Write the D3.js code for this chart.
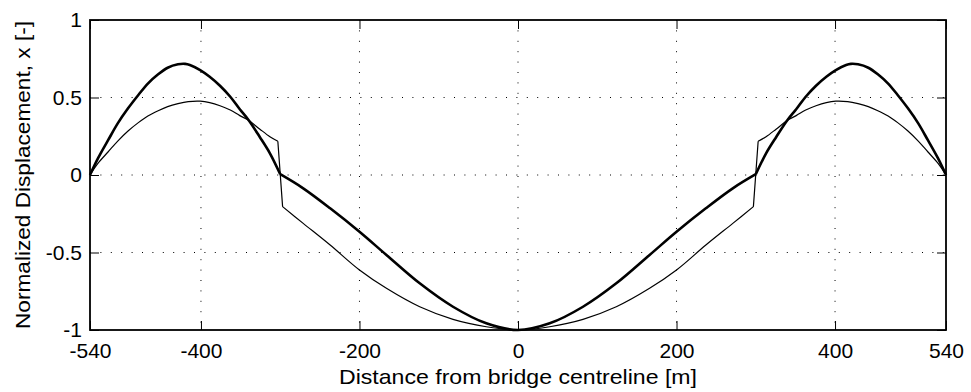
<!DOCTYPE html>
<html>
<head>
<meta charset="utf-8">
<script src="https://cdn.jsdelivr.net/npm/d3@7"></script>
<style>
body{margin:0;background:#fff;}
text{font-family:"Liberation Sans",Arial,sans-serif;fill:#000;}
</style>
</head>
<body>
<svg id="chart"></svg>
<script>
// values
const xTicks = [-540,-400,-200,0,200,400,540];
const yTicks = [-1,-0.5,0,0.5,1];
const xGrid = [-400,-200,0,200,400];
const yGrid = [-0.5,0,0.5];

const thickX = [-540,-530,-517,-505,-492,-479,-467,-454,-442,-429,-420,-414,-401,-389,-376,-363,-351,-340,-326,-313,-300,-271,-237,-200,-166,-124,-82,-40,0,
                40,82,124,166,200,237,271,300,313,326,340,351,363,376,389,401,414,420,429,442,454,467,479,492,505,517,530,540];
const thickY = [0,0.107,0.226,0.333,0.43,0.516,0.59,0.65,0.692,0.714,0.717,0.71,0.677,0.634,0.576,0.505,0.424,0.355,0.247,0.14,0.005,-0.086,-0.215,-0.366,-0.516,-0.699,-0.85,-0.957,-1,
                -0.957,-0.85,-0.699,-0.516,-0.366,-0.215,-0.086,0.005,0.14,0.247,0.355,0.424,0.505,0.576,0.634,0.677,0.71,0.717,0.714,0.692,0.65,0.59,0.516,0.43,0.333,0.226,0.107,0];
const thickKinks = [-300,300];

const thinX = [-540,-530,-517,-505,-492,-479,-467,-454,-442,-429,-416,-401,-389,-376,-363,-351,-340,-326,-313,-303,-297,-271,-237,-200,-166,-124,-82,-40,0,
               40,82,124,166,200,237,271,297,303,313,326,340,351,363,376,389,401,416,429,442,454,467,479,492,505,517,530,540];
const thinY = [0,0.075,0.15,0.219,0.284,0.338,0.381,0.415,0.441,0.46,0.473,0.476,0.467,0.447,0.419,0.383,0.353,0.297,0.247,0.218,-0.204,-0.312,-0.452,-0.613,-0.731,-0.85,-0.931,-0.979,-1,
               -0.979,-0.931,-0.85,-0.731,-0.613,-0.452,-0.312,-0.204,0.218,0.247,0.297,0.353,0.383,0.419,0.447,0.467,0.476,0.473,0.46,0.441,0.415,0.381,0.338,0.284,0.219,0.15,0.075,0];
const thinKinks = [-303,-297,297,303];

const width = 971, height = 392;
const margin = {left:90, right:25, top:20, bottom:62};
const innerW = width - margin.left - margin.right;
const innerH = height - margin.top - margin.bottom;
const tickLen = 9;
const fontSize = 21;

const svg = d3.select("#chart").attr("width", width).attr("height", height);
const chart = svg.append("g").attr("transform", `translate(${margin.left},${margin.top})`);

const xscale = d3.scaleLinear().domain([-540,540]).range([0,innerW]);
const yscale = d3.scaleLinear().domain([-1,1]).range([innerH,0]);

// dotted grid
chart.append("g").selectAll("line").data(xGrid).enter().append("line")
    .attr("x1", d=>xscale(d)).attr("x2", d=>xscale(d))
    .attr("y1", 0).attr("y2", innerH)
    .attr("stroke", "#000").attr("stroke-width", 1)
    .attr("stroke-dasharray", "1,9.4");
chart.append("g").selectAll("line").data(yGrid).enter().append("line")
    .attr("x1", 0).attr("x2", innerW)
    .attr("y1", d=>yscale(d)).attr("y2", d=>yscale(d))
    .attr("stroke", "#000").attr("stroke-width", 1)
    .attr("stroke-dasharray", "1,9.4");

// axes with inward ticks on all four sides
const styleAxis = g => {
    g.select(".domain").remove();
    g.selectAll(".tick line").attr("stroke", "#000").attr("stroke-width", 1);
    g.selectAll(".tick text").attr("font-size", fontSize).attr("font-family", "Liberation Sans, Arial, sans-serif");
};
const xaxis = d3.axisBottom(xscale).tickValues(xTicks).tickFormat(d=>String(d))
    .tickSizeInner(-tickLen).tickSizeOuter(0).tickPadding(13);
chart.append("g").attr("transform", `translate(0,${innerH})`).call(xaxis).call(styleAxis);
chart.append("g").call(d3.axisTop(xscale).tickValues(xTicks).tickSizeInner(-tickLen).tickSizeOuter(0).tickFormat(""))
    .call(styleAxis);
const yaxis = d3.axisLeft(yscale).tickValues(yTicks).tickFormat(d=>String(d))
    .tickSizeInner(-tickLen).tickSizeOuter(0).tickPadding(8);
chart.append("g").call(yaxis).call(styleAxis);
chart.append("g").attr("transform", `translate(${innerW},0)`)
    .call(d3.axisRight(yscale).tickValues(yTicks).tickSizeInner(-tickLen).tickSizeOuter(0).tickFormat(""))
    .call(styleAxis);

// split a series at its kink points so corners stay sharp
function pieces(xs, ys, kinks){
    const out = [];
    let cur = [];
    xs.forEach((x,i)=>{
        cur.push([x, ys[i]]);
        if(kinks.includes(x) && cur.length > 1){
            out.push(cur);
            cur = [[x, ys[i]]];
        }
    });
    if(cur.length > 1) out.push(cur);
    return out;
}

const line = d3.line().x(d=>xscale(d[0])).y(d=>yscale(d[1])).curve(d3.curveCatmullRom.alpha(0.5));
const thinPath = pieces(thinX, thinY, thinKinks).map(p=>line(p)).join("");
const thickPath = pieces(thickX, thickY, thickKinks).map(p=>line(p)).join("");
chart.append("path").attr("d", thinPath)
    .attr("fill", "none").attr("stroke", "#000").attr("stroke-width", 1.2).attr("stroke-linejoin", "round");
chart.append("path").attr("d", thickPath)
    .attr("fill", "none").attr("stroke", "#000").attr("stroke-width", 2.6).attr("stroke-linejoin", "round");

// box
chart.append("rect").attr("width", innerW).attr("height", innerH)
    .attr("fill", "none").attr("stroke", "#000").attr("stroke-width", 1.8);

// labels
svg.append("text")
    .attr("x", margin.left + innerW/2).attr("y", 384)
    .attr("text-anchor", "middle").attr("font-size", fontSize)
    .attr("textLength", 358).attr("lengthAdjust", "spacingAndGlyphs")
    .text("Distance from bridge centreline [m]");
svg.append("text")
    .attr("transform", "rotate(-90)")
    .attr("x", -(margin.top + innerH/2)).attr("y", 30)
    .attr("text-anchor", "middle").attr("font-size", fontSize)
    .attr("textLength", 308).attr("lengthAdjust", "spacingAndGlyphs")
    .text("Normalized Displacement, x [-]");
</script>
</body>
</html>
